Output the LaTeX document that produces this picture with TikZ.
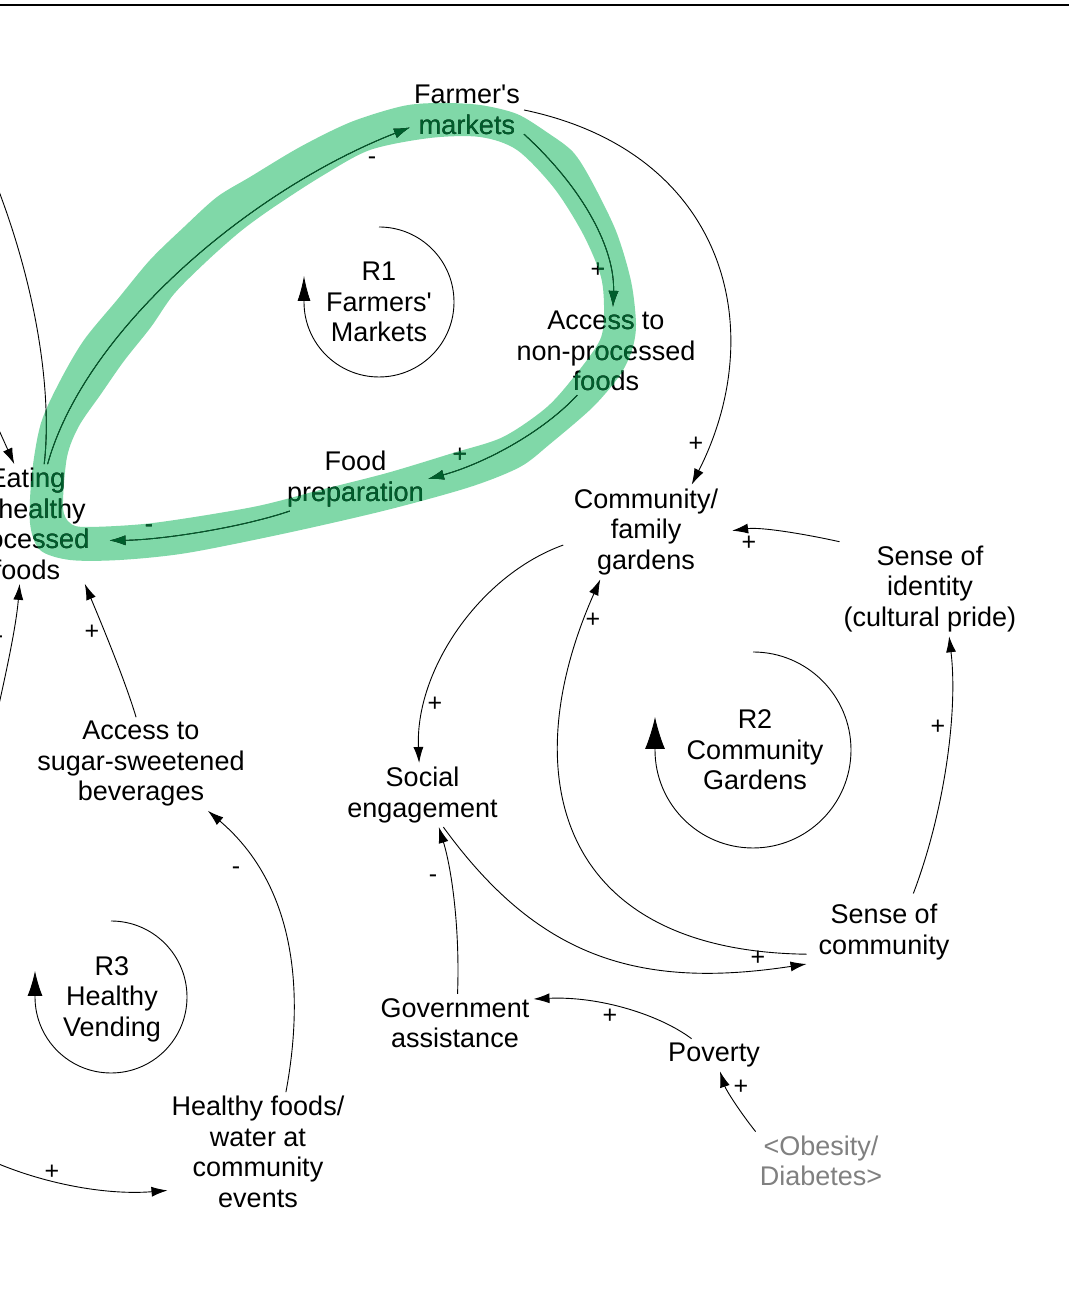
\documentclass[tikz,border=0pt]{standalone}
\usepackage{fontspec}
\newfontfamily\varfont{Liberation Sans}
\usetikzlibrary{arrows.meta}
\definecolor{bandgreen}{RGB}{128,216,168}
\definecolor{dkgreen}{RGB}{0,94,44}
\definecolor{ghost}{RGB}{128,128,128}
\colorlet{ink}{black}

% green band round loop R1: outer edge, then inner edge (reversed)
\newcommand{\farmband}{plot[smooth cycle] coordinates {(40,745) (30,772) (32,822) (41,872) (60,914) (84,955) (117,995) (150,1035) (184,1068) (217,1098) (250,1118) (300,1148) (351,1173) (403,1189) (440,1192) (480,1190) (517,1181) (548,1162) (573,1143) (591,1115) (616,1064) (631,1014) (636,971) (632,945) (620,920) (593,888) (550,851) (520,828) (470,808) (387,785) (287,762) (187,742) (120,735) (70,735)}
  plot[smooth cycle] coordinates {(87,768) (153,772) (253,788) (320,805) (387,822) (453,842) (503,858) (547,888) (577,922) (600,955) (604,982) (601,1018) (583,1061) (554,1107) (517,1145) (480,1158) (430,1157) (370,1145) (322,1119) (274,1088) (241,1064) (207,1034) (174,1001) (151,968) (124,934) (101,901) (79,869) (67,838) (63,788) (70,772)}}

% the part of loop R1 that the band runs over
\newcommand{\farmloop}{%
  \node[var] (fm) at (467,1185) {Farmer's\\markets};
  \node[var] (anp) at (606,944) {Access to\\non-processed\\foods};
  \node[var] (fp) at (355.5,816) {Food\\preparation};
  \node[var] (euf) at (27,771) {Eating\\unhealthy\\processed\\foods};
  \draw[conn] (fm.-23) .. controls (585,1105) and (615,1045) .. (anp.81);
  \draw[conn] (anp.-123) .. controls (540,860) and (480,830) .. (fp.east);
  \draw[conn,shorten >=16pt] (fp.-154) .. controls (240,767) and (160,755) .. (euf.-14);
  \draw[conn] (euf.71) .. controls (85,965) and (250,1105) .. (fm.197);
  \draw[link] (euf.74) .. controls (52,895) and (40,1015) .. (offr);
  \node[sign] (pa) at (598,1025) {+};
  \node[sign] (pb) at (460,840) {+};
  \node[sign] (pc) at (149,766) {-};
  \node[sign] (pd) at (372,1134) {-};
}

\begin{document}
\begin{tikzpicture}[x=1pt,y=1pt,
  var/.style={align=center,inner sep=4pt,text=ink,font=\varfont\fontsize{27}{30.5}\selectfont},
  sign/.style={inner sep=0pt,text=ink,font=\varfont\fontsize{25}{27}\selectfont},
  conn/.style={draw=ink,line width=0.9pt,-{Latex[length=16pt,width=10pt]}},
  link/.style={draw=ink,line width=0.9pt},
  loopmark/.style={line width=0.9pt}]
\useasboundingbox (0,0) rectangle (1069,1295);
\clip (0,0) rectangle (1069,1295);
\draw[line width=2.5pt] (0,1290) -- (1069,1290);

% free ends that leave the picture on the left
\coordinate (offr) at (-20,1150);
\coordinate (offq) at (-15,896);
\coordinate (offp) at (-20,505);
\coordinate (offs) at (-40,150);

\fill[bandgreen,even odd rule] \farmband;
\farmloop
\begin{scope}[even odd rule]
  \clip \farmband;
  \colorlet{ink}{dkgreen}
  \farmloop
\end{scope}

% loop markers
\node[var] (r1t) at (379,993) {R1\\Farmers'\\Markets};
\draw[loopmark,-{Latex[length=25pt,width=13pt]}] (379,1068) arc[start angle=90,end angle=-180,radius=75] -- ++(0,26);
\node[var] (r2t) at (755,545) {R2\\Community\\Gardens};
\draw[loopmark,-{Latex[length=32pt,width=20pt]}] (753,643) arc[start angle=90,end angle=-180,radius=98] -- ++(0,33);
\node[var] (r3t) at (112,296) {R3\\Healthy\\Vending};
\draw[loopmark,-{Latex[length=25pt,width=15pt]}] (111,374) arc[start angle=90,end angle=-180,radius=76] -- ++(0,26);

% variables
\node[var] (cfg) at (646,763) {Community/\\family\\gardens};
\node[var] (soi) at (930,706) {Sense of\\identity\\(cultural pride)};
\node[var] (se) at (422.5,500) {Social\\engagement};
\node[var] (asb) at (141,531) {Access to\\sugar-sweetened\\beverages};
\node[var,inner xsep=12pt] (soc) at (884,363) {Sense of\\community};
\node[var] (ga) at (455,272) {Government\\assistance};
\node[var] (pov) at (714,240) {Poverty};
\node[var,text=ghost] (ob) at (821,134) {<Obesity/\\Diabetes>};
\node[var] (hf) at (258,143) {Healthy foods/\\water at\\community\\events};

% links
\draw[conn] (fm.east) .. controls (725,1143) and (771,967) .. (cfg.46);
\draw[conn,shorten >=10pt] (soi.north west) .. controls (800,762) and (760,768) .. (cfg.east);
\draw[conn,shorten <=7pt] (cfg.188) .. controls (480,720) and (415,625) .. (se.96);
\draw[conn] (soc.196) .. controls (556,344) and (514,522) .. (cfg.-134);
\draw[conn] (se.-57) .. controls (537,339) and (636,305) .. (soc.south west);
\draw[conn,shorten <=7pt] (soc.50) .. controls (945,485) and (958,585) .. (soi.-68);
\draw[conn] (ga.85) .. controls (460,365) and (452,425) .. (se.-63);
\draw[conn] (pov.144) .. controls (660,280) and (600,299) .. (ga.17);
\draw[conn] (ob.north west) .. controls (740,183) and (726,205) .. (pov.-70);
\draw[conn] (hf.65) .. controls (305,305) and (295,410) .. (asb.-35);
\draw[conn] (asb.96) .. controls (125,615) and (100,675) .. (euf.-46);
\draw[conn] (offp) .. controls (-5,575) and (15,655) .. (euf.-97);
\draw[conn] (offq) -- (euf.102);
\draw[conn] (offs) .. controls (20,115) and (100,99) .. (hf.203);

% polarities
\node[sign] (pe) at (696,851) {+};
\node[sign] (pf) at (749,752) {+};
\node[sign] (pg) at (435,591) {+};
\node[sign] (ph) at (593,675) {+};
\node[sign] (pi) at (758,337) {+};
\node[sign] (pj) at (938,568) {+};
\node[sign] (pk) at (433,416) {-};
\node[sign] (pl) at (610,279) {+};
\node[sign] (pm) at (741,208) {+};
\node[sign] (pn) at (236,424) {-};
\node[sign] (po) at (92,663) {+};
\node[sign] (pp) at (-1,655) {-};
\node[sign] (ps) at (52,123) {+};
\end{tikzpicture}
\end{document}
